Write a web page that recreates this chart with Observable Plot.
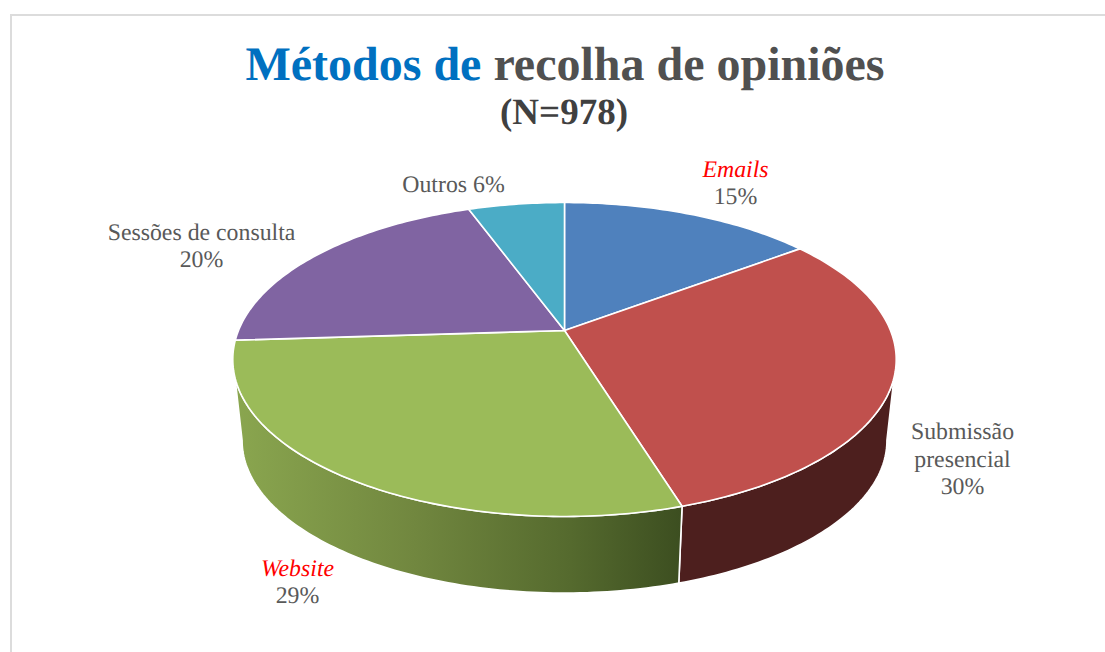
<!DOCTYPE html>
<html lang="pt">
<head>
<meta charset="utf-8">
<script src="https://cdn.jsdelivr.net/npm/d3@7"></script>
<script src="https://cdn.jsdelivr.net/npm/@observablehq/plot@0.6"></script>
<style>
  html, body { margin: 0; padding: 0; background: #fff; overflow: hidden; }
  #page { position: relative; width: 1105px; height: 652px; overflow: hidden; font-family: "Liberation Serif", serif; text-rendering: geometricPrecision; }
  #frame { position: absolute; left: 10px; top: 14px; width: 1100px; height: 650px; border-left: 2px solid #dcdcdc; border-top: 2px solid #dcdcdc; }
  #title { position: absolute; left: 0; top: 0; width: 1105px; height: 135px; text-align: center; font-weight: bold; }
  #title .main { position: absolute; left: 0; width: 1130px; top: 38px; font-size: 48px; line-height: 54px; color: #505050; }
  #title .main .accent { color: #0070c0; }
  #title .sub { position: absolute; left: 0; width: 1128px; top: 92px; font-size: 37px; line-height: 42px; color: #404040; }
  #chart { position: absolute; left: 0; top: 135px; }
  #chart svg { display: block; background: transparent; text-rendering: geometricPrecision; }
</style>
</head>
<body>
<div id="page">
  <div id="frame"></div>
  <div id="title">
    <div class="main"><span class="accent">Métodos de</span> recolha de opiniões</div>
    <div class="sub">(N=978)</div>
  </div>
  <div id="chart"></div>
</div>
<script>
// Data
const categories = ["Emails", "Submissão presencial", "Website", "Sessões de consulta", "Outros"];
const shares = [14.8, 30.4, 28.8, 20.4, 5.6];

// Styles
const faceColors = ["#4f81bd", "#c0504d", "#9bbb59", "#8064a2", "#4bacc6"];
const sideFills = ["#2a4466", "#4d1f1e", "url(#greenSide)", "#44355a", "#285c6a"];
const labelLines = [["Emails", "15%"], ["Submissão", "presencial", "30%"], ["Website", "29%"], ["Sessões de consulta", "20%"], ["Outros 6%"]];
const labelColors = [["#ff0000", "#595959"], ["#595959", "#595959", "#595959"], ["#ff0000", "#595959"], ["#595959", "#595959"], ["#595959"]];
const labelItalic = [[true, false], [false, false, false], [true, false], [false, false], [false]];
const labelCx = [735, 962, 297, 201, 453];
const labelBase = [176, 438.5, 575, 239, 191];
const labelStep = 27.6;

// Perspective pie geometry (page pixels)
const cx = 564, apexY = 330, a = 326, b = 151.6, k = 0.1847;
const ellCy = 359, lowCy = 440, lowScale = 0.972;
const rad = d => d * Math.PI / 180;
function topPt(t) {
  const X = Math.sin(rad(t)), Y = Math.cos(rad(t)), w = 1 + k * Y;
  return [cx + a * X / w, apexY - b * Y / w];
}
function lowPt(t) {
  const [x, y] = topPt(t);
  return [cx + (x - cx) * lowScale, lowCy + (y - ellCy) * lowScale];
}
function arc(fn, t0, t1) {
  const n = Math.max(2, Math.ceil(Math.abs(t1 - t0)));
  return d3.range(n + 1).map(i => fn(t0 + (t1 - t0) * i / n));
}
const total = d3.sum(shares);
const cum = d3.cumsum(shares).map(v => v / total * 360);
const starts = [0, ...cum.slice(0, -1)];

const faces = shares.map((_, i) => [[cx, apexY], ...arc(topPt, starts[i], cum[i])]);
const visTop = [107, 253], visLow = [100.6, 259.4];
const sides = shares.map((_, i) => {
  if (cum[i] <= visTop[0] || starts[i] >= visTop[1]) return null;
  const t0 = Math.max(starts[i], visTop[0]), t1 = Math.min(cum[i], visTop[1]);
  const l0 = starts[i] <= visTop[0] ? visLow[0] : starts[i];
  const l1 = cum[i] >= visTop[1] ? visLow[1] : cum[i];
  return [...arc(topPt, t0, t1), ...arc(lowPt, l1, l0)];
});

const labelRows = labelLines.flatMap((lines, i) => lines.map((text, j) => ({
  text, x: labelCx[i], y: labelBase[i] + j * labelStep, color: labelColors[i][j], italic: labelItalic[i][j]
})));

const gradient = () => {
  const svgNS = "http://www.w3.org/2000/svg";
  const defs = document.createElementNS(svgNS, "defs");
  const g = document.createElementNS(svgNS, "linearGradient");
  g.setAttribute("id", "greenSide");
  [[0, "#8aa64f"], [0.4, "#71873f"], [0.75, "#556a2e"], [1, "#3c4e20"]].forEach(([o, c]) => {
    const s = document.createElementNS(svgNS, "stop");
    s.setAttribute("offset", o);
    s.setAttribute("stop-color", c);
    g.appendChild(s);
  });
  defs.appendChild(g);
  return defs;
};

const polygon = (pts, fill) => Plot.line(pts, {
  x: d => d[0], y: d => d[1], curve: "linear-closed",
  fill, stroke: "#ffffff", strokeWidth: 1.6, strokeLinejoin: "round"
});

const textMark = (rows, fontStyle) => Plot.text(rows, {
  x: "x", y: "y", text: "text", fill: d => d.color, textAnchor: "middle", lineAnchor: "bottom",
  fontFamily: "Liberation Serif", fontSize: 23.8, fontStyle
});

const chart = Plot.plot({
  width: 1105,
  height: 517,
  margin: 0,
  x: { domain: [0, 1105], range: [0, 1105], axis: null },
  y: { domain: [135, 652], range: [0, 517], axis: null },
  color: { type: "identity" },
  marks: [
    gradient,
    ...sides.map((pts, i) => pts ? polygon(pts, sideFills[i]) : null).filter(Boolean),
    ...faces.map((pts, i) => polygon(pts, faceColors[i])),
    textMark(labelRows.filter(d => !d.italic), "normal"),
    textMark(labelRows.filter(d => d.italic), "italic")
  ]
});
document.getElementById("chart").appendChild(chart);
</script>
</body>
</html>
